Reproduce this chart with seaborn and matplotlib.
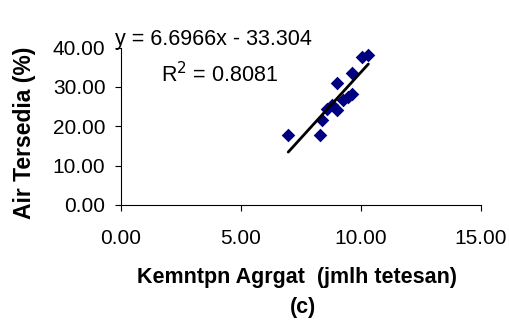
import numpy as np
import pandas as pd
import matplotlib
matplotlib.use("Agg")
import matplotlib.pyplot as plt
import seaborn as sns

# data
kemantapan = [6.98, 8.30, 8.40, 8.58, 8.80, 9.00, 9.00, 9.25, 9.45, 9.65, 9.63, 10.04, 10.32]
air_tersedia = [17.7, 17.7, 21.5, 24.5, 25.4, 24.1, 30.9, 26.6, 27.5, 28.3, 33.4, 37.7, 38.1]
x_ticks = [0, 5, 10, 15]
y_ticks = [0, 10, 20, 30, 40]
slope, intercept = 6.6966, -33.304
r2 = 0.8081

sns.set_theme(style="white")
plt.rcParams['font.family'] = ['Liberation Sans', 'DejaVu Sans']
plt.rcParams['text.color'] = 'black'
plt.rcParams['xtick.color'] = 'black'
plt.rcParams['ytick.color'] = 'black'

df = pd.DataFrame({"x": kemantapan, "y": air_tersedia})

W, H = 509, 323
fig = plt.figure(figsize=(W / 100, H / 100), dpi=100)
ax = fig.add_axes([120.7 / W, 1 - 205 / H, (480.7 - 120.7) / W, (205 - 47.5) / H])

sns.scatterplot(data=df, x="x", y="y", ax=ax, marker="D", s=48,
                color="#000080", edgecolor="#000080", linewidth=0, zorder=2)
xs = np.array([min(kemantapan), max(kemantapan)])
sns.lineplot(x=xs, y=slope * xs + intercept, ax=ax, color="black", linewidth=2.0, zorder=3)

ax.set_xlim(0, 15)
ax.set_ylim(0, 40)
ax.set_xticks(x_ticks)
ax.set_yticks(y_ticks)
ax.set_xticklabels([f"{v:.2f}" for v in x_ticks], fontsize=15)
ax.set_yticklabels([f"{v:.2f}" for v in y_ticks], fontsize=15)
ax.tick_params(axis="both", direction="out", length=4, width=0.8, color="black",
               bottom=True, left=True)
ax.tick_params(axis="x", pad=13)
ax.tick_params(axis="y", pad=7)
for s in ["top", "right"]:
    ax.spines[s].set_visible(False)
for s in ["left", "bottom"]:
    ax.spines[s].set_color("black")
    ax.spines[s].set_linewidth(0.8)
ax.set_xlabel("")
ax.set_ylabel("")

fig.text(25 / W, 1 - 133 / H, "Air Tersedia (%)", rotation=90, fontsize=16.5,
         fontweight="bold", ha="center", va="center")
fig.text(297 / W, 1 - 277 / H, "Kemntpn Agrgat  (jmlh tetesan)", fontsize=15.5,
         fontweight="bold", ha="center", va="center")
fig.text(303 / W, 1 - 308 / H, "(c)", fontsize=15.5, fontweight="bold",
         ha="center", va="center")

fig.text(115 / W, 1 - 40 / H, f"y = {slope:.4f}x - {abs(intercept):.3f}", fontsize=15.5,
         ha="left", va="center")
fig.text(161 / W, 1 - 75 / H, f"R$^2$ = {r2:.4f}", fontsize=15.5, ha="left", va="center")

fig.savefig("out.png", dpi=100, facecolor="white")
